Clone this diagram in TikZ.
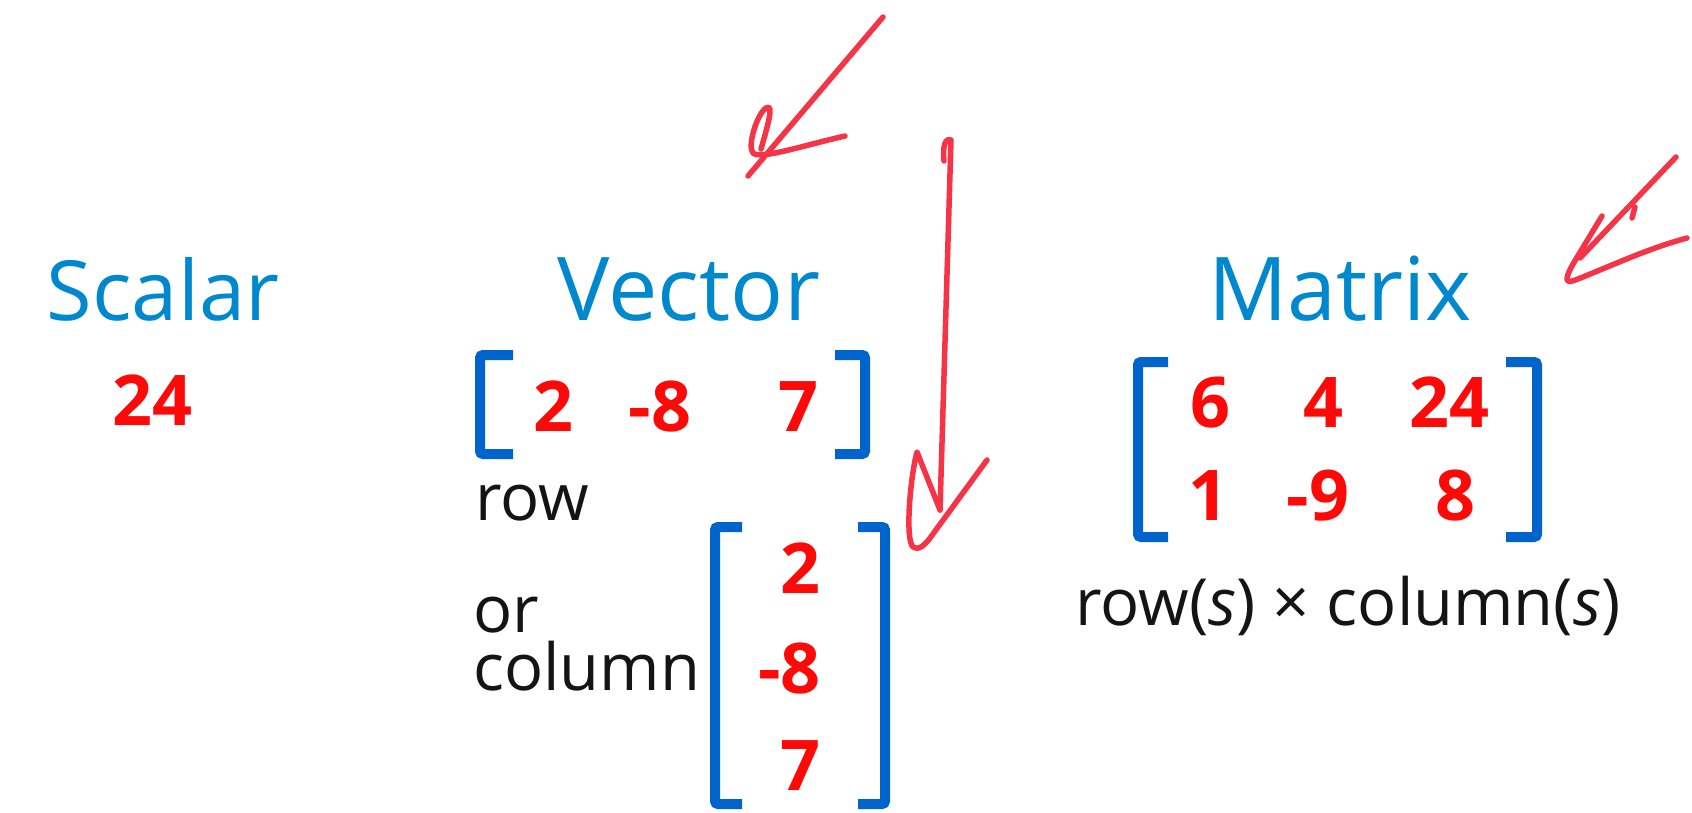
\documentclass[tikz,border=0pt]{standalone}
\usepackage{fontspec}
\setmainfont{Open Sans}

\definecolor{titleblue}{RGB}{0,136,206}
\definecolor{brackblue}{RGB}{0,100,204}
\definecolor{numred}{RGB}{255,8,8}
\definecolor{inkblack}{RGB}{20,20,20}
\definecolor{penred}{RGB}{246,52,72}

\tikzset{
  heading/.style={text=titleblue, font=\fontsize{88}{88}\selectfont, inner sep=0pt, anchor=base},
  num/.style={text=numred, font=\fontsize{70}{70}\selectfont\bfseries, inner sep=0pt, anchor=base},
  lbl/.style={text=inkblack, font=\fontsize{65}{65}\selectfont, inner sep=0pt, anchor=base west},
  brk/.style={draw=brackblue, line width=10pt, rounded corners=3pt},
  pen/.style={draw=penred, line width=5.5pt, line cap=round, line join=round},
}

\begin{document}
\begin{tikzpicture}[x=1pt,y=-1pt]
  \useasboundingbox[fill=white] (0,0) rectangle (1692,813);

  % headings
  \node[heading, font=\fontsize{83}{83}\selectfont] (scalar) at (163,320) {Scalar};
  \node[heading] (vector) at (689,320) {Vector};
  \node[heading] (matrix) at (1340,320) {Matrix};

  % scalar value
  \node[num] (s24) at (152,425) {24};

  % row vector
  \draw[brk] (513,355) -- (480,355) -- (480,454) -- (513,454);
  \draw[brk] (835,355) -- (865,355) -- (865,454) -- (835,454);
  \node[num] (r1) at (553,431) {2};
  \node[num] (r2) at (660,431) {-8};
  \node[num] (r3) at (798,431) {7};
  \node[lbl] (rowlbl) at (475,520) {row};

  % column vector
  \node[lbl] (orlbl) at (473,632) {or};
  \node[lbl] (collbl) at (473,690) {column};
  \draw[brk] (742,527) -- (715,527) -- (715,804) -- (742,804);
  \draw[brk] (858,527) -- (885,527) -- (885,804) -- (858,804);
  \node[num, anchor=base east] (c1) at (821,593) {2};
  \node[num, anchor=base east] (c2) at (821,693) {-8};
  \node[num, anchor=base east] (c3) at (821,790) {7};

  % matrix
  \draw[brk] (1168,362) -- (1138,362) -- (1138,537) -- (1168,537);
  \draw[brk] (1506,362) -- (1537,362) -- (1537,537) -- (1506,537);
  \node[num] (m11) at (1210,427) {6};
  \node[num] (m12) at (1323,427) {4};
  \node[num] (m13) at (1449,427) {24};
  \node[num] (m21) at (1208,520) {1};
  \node[num] (m22) at (1318,520) {-9};
  \node[num] (m23) at (1455,520) {8};
  \node[lbl, anchor=base] (dims) at (1348,625) {row(\textit{s}) × column(\textit{s})};

  % hand-drawn pen strokes
  \draw[pen] (883,17) -- (748,176);
  \draw[pen] (761,149) .. controls (767,128) and (775,102) .. (766,108)
             .. controls (757,114) and (747,146) .. (753,153)
             .. controls (760,160) and (805,145) .. (845,136);

  \draw[pen] (944,161) .. controls (942,146) and (946,137) .. (951,140)
             -- (940,510);
  \draw[pen] (940,510) -- (917,452)
             .. controls (910,478) and (905,540) .. (913,547)
             .. controls (918,551) and (925,545) .. (930,538) -- (987,460);

  \draw[pen] (1676,157) -- (1580,258);
  \draw[pen] (1635,207) -- (1632,218);
  \draw[pen] (1602,216) -- (1573,264)
             .. controls (1563,282) and (1566,284) .. (1578,279)
             .. controls (1620,262) and (1650,248) .. (1687,238);
\end{tikzpicture}
\end{document}
